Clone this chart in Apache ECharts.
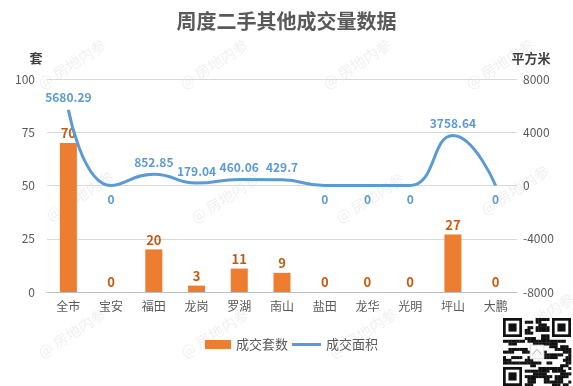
<!DOCTYPE html>
<html><head><meta charset="utf-8">
<script src="https://cdn.jsdelivr.net/npm/echarts@6/dist/echarts.min.js"></script>
<style>html,body{margin:0;padding:0;background:#fff}#c{width:573px;height:386px}</style>
</head><body><div id="c"></div>
<script>
const categories = ['全市','宝安','福田','龙岗','罗湖','南山','盐田','龙华','光明','坪山','大鹏'];
const unitsSold = [70,0,20,3,11,9,0,0,0,27,0];
const areaSold = [5680.29,0,852.85,179.04,460.06,429.7,0,0,0,3758.64,0];
const leftTicks = {min:0,max:100,interval:25};
const rightTicks = {min:-8000,max:8000,interval:4000};

const FONT = '"Noto Sans CJK SC", "Noto Sans", sans-serif';
const chart = echarts.init(document.getElementById('c'), null, {renderer:'canvas'});

// watermark
const wm = [];
const wmPos = [[72,64],[214,64],[357,64],[500,64],[80,196],[225,198],[370,198],[515,190],[72,333],[215,333],[363,333],[540,318]];
wmPos.forEach(p=>{
  wm.push({type:'text', x:p[0], y:p[1], rotation:Math.PI/5.5, z:-1, silent:true,
    style:{text:'@ 房地内参', fill:'rgba(200,200,200,0.28)', font:'15px ' + FONT, align:'center', verticalAlign:'middle'}});
});
// QR-like block
const qr = {type:'group', x:503, y:318, children:[]};
const S = 68, m = S/25;
qr.children.push({type:'rect', shape:{x:0,y:0,width:S,height:S}, style:{fill:'#fff'}});
function finder(cx,cy){
  qr.children.push({type:'rect', shape:{x:cx,y:cy,width:7*m,height:7*m}, style:{fill:'#111'}});
  qr.children.push({type:'rect', shape:{x:cx+m,y:cy+m,width:5*m,height:5*m}, style:{fill:'#fff'}});
  qr.children.push({type:'rect', shape:{x:cx+2*m,y:cy+2*m,width:3*m,height:3*m}, style:{fill:'#111'}});
}
finder(0,0); finder(18*m,0); finder(0,18*m);
let seed = 7;
for(let r=0;r<25;r++){for(let c=0;c<25;c++){
  if((r<8&&c<8)||(r<8&&c>16)||(r>16&&c<8)) continue;
  if(r>=10&&r<=14&&c>=10&&c<=14) continue;
  seed = (seed*1103515245+12345)&0x7fffffff;
  if((seed>>8)%2===0) qr.children.push({type:'rect', shape:{x:c*m,y:r*m,width:m+0.3,height:m+0.3}, style:{fill:'#111'}});
}}
qr.children.push({type:'rect', shape:{x:10*m,y:10*m,width:5*m,height:5*m}, style:{fill:'#fff',stroke:'#ddd'}});
qr.children.push({type:'polyline', shape:{points:[[10.8*m,13.5*m],[12.5*m,11.5*m],[14.2*m,13.5*m]]}, style:{stroke:'#c8a878',fill:'none',lineWidth:1}});

chart.setOption({
  backgroundColor:'#fff',
  animation:false,
  textStyle:{fontFamily:FONT},
  title:{text:'周度二手其他成交量数据', left:'center', top:6,
    textStyle:{fontSize:20, fontWeight:'bold', color:'#595959', fontFamily:FONT}},
  legend:[
    {left:205, top:338, padding:0, itemWidth:26, itemHeight:9, itemGap:5,
     textStyle:{fontSize:13, color:'#595959'},
     data:[{name:'成交套数', icon:'rect'}]},
    {left:292, top:338, padding:0, itemWidth:29, itemHeight:3, itemGap:5,
     textStyle:{fontSize:13, color:'#595959'},
     data:[{name:'成交面积', icon:'rect'}]}
  ],
  grid:{left:47, right:56, top:79, bottom:94},
  xAxis:{type:'category', data:categories,
    axisLine:{lineStyle:{color:'#bfbfbf'}}, axisTick:{show:false},
    axisLabel:{color:'#595959', fontSize:12, margin:8}},
  yAxis:[
    {type:'value', min:leftTicks.min, max:leftTicks.max, interval:leftTicks.interval,
     name:'套', nameLocation:'end', nameGap:14, nameTextStyle:{color:'#404040', fontSize:13, fontWeight:'bold', align:'center', padding:[0,0,0,-22]},
     axisLine:{show:false}, axisTick:{show:false},
     axisLabel:{color:'#595959', fontSize:12, margin:12},
     splitLine:{lineStyle:{color:'#d9d9d9'}}},
    {type:'value', min:rightTicks.min, max:rightTicks.max, interval:rightTicks.interval,
     name:'平方米', nameLocation:'end', nameGap:14, nameTextStyle:{color:'#404040', fontSize:13, fontWeight:'bold', align:'center', padding:[0,0,0,28]},
     axisLine:{show:false}, axisTick:{show:false},
     axisLabel:{color:'#595959', fontSize:12, margin:6, formatter:v=>String(v)},
     splitLine:{show:false}}
  ],
  series:[
    {name:'成交套数', type:'bar', data:unitsSold, barWidth:17, yAxisIndex:0,
     itemStyle:{color:'#ED7D31'},
     label:{show:true, position:'top', color:'#C55A11', fontSize:13, fontWeight:'bold', distance:3}},
    {name:'成交面积', type:'line', yAxisIndex:1, smooth:0.5, symbol:'circle', symbolSize:0.1, showSymbol:true,
     data:areaSold.map(v=>({value:v, label:{position: v===0 ? 'bottom' : 'top', distance: v===0 ? 8 : 6}})),
     lineStyle:{color:'#5B9BD5', width:3}, itemStyle:{color:'#5B9BD5'},
     label:{show:true, color:'#5B9BD5', fontSize:12, fontWeight:'bold'}}
  ],
  graphic: wm.concat([qr])
});
</script></body></html>
